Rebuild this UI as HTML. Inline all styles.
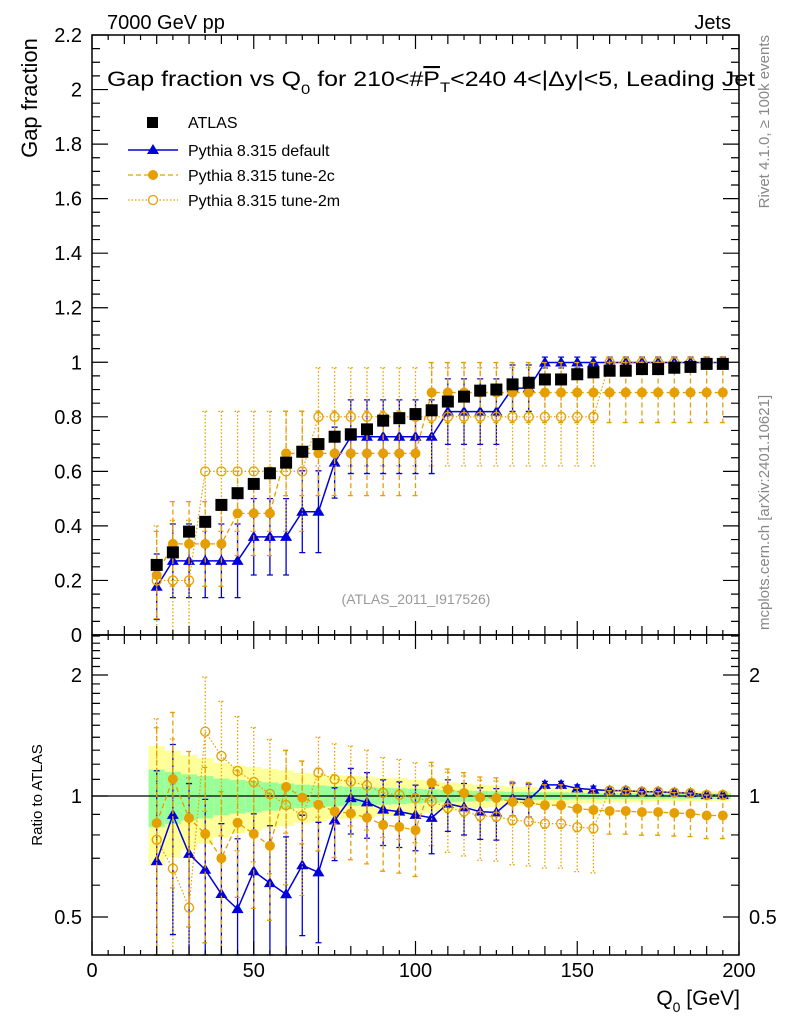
<!DOCTYPE html>
<html><head><meta charset="utf-8"><style>
html,body{margin:0;padding:0;background:#fff;}
svg{display:block;font-family:"Liberation Sans",sans-serif;}
</style></head><body>
<svg id="chart" width="786" height="1024" viewBox="0 0 786 1024" xmlns="http://www.w3.org/2000/svg">
<g id="bands"></g><g id="marks"></g><g id="axes"></g>
<text x="107" y="29" font-size="20">7000 GeV pp</text>
<text x="731" y="29" font-size="20" text-anchor="end">Jets</text>
<text x="107" y="86" font-size="21" textLength="648" lengthAdjust="spacingAndGlyphs">Gap fraction vs Q<tspan dy="8" font-size="14">0</tspan><tspan dy="-8"> for 210&lt;#</tspan><tspan text-decoration="overline">P</tspan><tspan dy="6" font-size="14">T</tspan><tspan dy="-6">&lt;240  4&lt;|Δy|&lt;5, Leading Jet</tspan></text>
<text transform="translate(37,98) rotate(-90)" font-size="22" text-anchor="middle">Gap fraction</text>
<text transform="translate(42,795) rotate(-90)" font-size="15" text-anchor="middle">Ratio to ATLAS</text>
<text x="740" y="1005" font-size="21" text-anchor="end">Q<tspan dy="7" font-size="14">0</tspan><tspan dy="-7"> [GeV]</tspan></text>
<text transform="translate(769,35) rotate(-90)" font-size="15" fill="#888" text-anchor="end">Rivet 4.1.0, ≥ 100k events</text>
<text transform="translate(769,630) rotate(-90)" font-size="15" fill="#888">mcplots.cern.ch [arXiv:2401.10621]</text>
<text x="416" y="604" font-size="14" fill="#999" text-anchor="middle">(ATLAS_2011_I917526)</text>
<g>
<rect x="147" y="117" width="11" height="11" fill="#000"/>
<text x="188" y="128" font-size="16">ATLAS</text>
<line x1="128" y1="150" x2="178" y2="150" stroke="#0000dd" stroke-width="1.5"/>
<polygon points="153,144 159,154 147,154" fill="#0000dd"/>
<text x="188" y="156" font-size="16">Pythia 8.315 default</text>
<line x1="128" y1="175" x2="178" y2="175" stroke="#e69f00" stroke-width="1.3" stroke-dasharray="5,3"/>
<circle cx="153" cy="175" r="5" fill="#e69f00"/>
<text x="188" y="181" font-size="16">Pythia 8.315 tune-2c</text>
<line x1="128" y1="200" x2="178" y2="200" stroke="#e69f00" stroke-width="1.2" stroke-dasharray="1.5,2"/>
<circle cx="153" cy="200" r="4.5" fill="#fff" stroke="#e69f00" stroke-width="1.3"/>
<text x="188" y="206" font-size="16">Pythia 8.315 tune-2m</text>
</g>
</svg>
<script>
const xs = [20,25,30,35,40,45,50,55,60,65,70,75,80,85,90,95,100,105,110,115,120,125,130,135,140,145,150,155,160,165,170,175,180,185,190,195];
const atlas = [0.257,0.303,0.379,0.415,0.477,0.52,0.554,0.593,0.632,0.672,0.70,0.727,0.736,0.754,0.786,0.795,0.81,0.824,0.856,0.874,0.896,0.90,0.919,0.925,0.937,0.937,0.956,0.963,0.969,0.969,0.975,0.975,0.98,0.983,0.994,0.994];
const atlasTot = [0.085,0.09,0.1,0.1,0.1,0.1,0.1,0.1,0.1,0.095,0.095,0.09,0.09,0.09,0.085,0.085,0.08,0.075,0.07,0.065,0.06,0.055,0.05,0.05,0.045,0.045,0.04,0.04,0.035,0.035,0.035,0.03,0.03,0.03,0.03,0.03];
const atlasStat = [0.042,0.045,0.05,0.05,0.05,0.05,0.05,0.048,0.047,0.045,0.044,0.042,0.04,0.04,0.038,0.036,0.034,0.032,0.03,0.028,0.026,0.024,0.022,0.022,0.02,0.02,0.018,0.018,0.016,0.016,0.016,0.015,0.015,0.015,0.015,0.015];
const def = [0.177,0.272,0.272,0.272,0.272,0.272,0.36,0.36,0.36,0.452,0.452,0.632,0.727,0.727,0.727,0.727,0.727,0.727,0.819,0.819,0.819,0.819,0.905,0.905,0.999,0.999,0.999,0.999,0.999,0.999,0.999,0.999,0.999,0.999,0.999,0.999];
const defErr = [0.12,0.135,0.135,0.135,0.135,0.135,0.14,0.14,0.14,0.15,0.15,0.13,0.135,0.135,0.135,0.135,0.135,0.135,0.12,0.12,0.12,0.12,0.085,0.085,0.02,0.02,0.02,0.02,0.02,0.02,0.02,0.02,0.02,0.02,0.02,0.02];
const c2 = [0.22,0.334,0.334,0.334,0.334,0.446,0.446,0.446,0.666,0.666,0.666,0.666,0.666,0.666,0.666,0.666,0.666,0.889,0.889,0.889,0.889,0.889,0.889,0.889,0.889,0.889,0.889,0.889,0.889,0.889,0.889,0.889,0.889,0.889,0.889,0.889];
const c2Err = [0.16,0.155,0.155,0.155,0.155,0.155,0.155,0.155,0.155,0.155,0.155,0.155,0.155,0.155,0.155,0.155,0.155,0.11,0.11,0.11,0.11,0.11,0.11,0.11,0.11,0.11,0.11,0.11,0.11,0.11,0.11,0.11,0.11,0.11,0.11,0.11];
const m2 = [0.2,0.2,0.2,0.6,0.6,0.6,0.6,0.6,0.6,0.6,0.8,0.8,0.8,0.8,0.8,0.8,0.8,0.8,0.8,0.8,0.8,0.8,0.8,0.8,0.8,0.8,0.8,0.8,1.0,1.0,1.0,1.0,1.0,1.0,1.0,1.0];
const m2Err = [0.2,0.22,0.22,0.22,0.22,0.22,0.22,0.22,0.22,0.22,0.18,0.18,0.18,0.18,0.18,0.18,0.18,0.18,0.18,0.18,0.18,0.18,0.18,0.18,0.18,0.18,0.18,0.18,0.02,0.02,0.02,0.02,0.02,0.02,0.02,0.02];
const xTicks = [0,50,100,150,200];
const yTicks = [0,0.2,0.4,0.6,0.8,1,1.2,1.4,1.6,1.8,2,2.2];
const rTicks = [0.5,1,2];

const L=92,R=739,T=35,MB=635,RB=955;
const sx=v=>L+(v/200)*(R-L);
const sy=v=>MB-v/2.2*(MB-T);
const sr=v=>796-Math.log2(v)*121;
const clampM=y=>Math.max(T,Math.min(MB,y));
const clampR=y=>Math.max(MB,Math.min(RB,y));
const NS='http://www.w3.org/2000/svg';
function mk(parent,tag,attrs){const e=document.createElementNS(NS,tag);for(const k in attrs)e.setAttribute(k,attrs[k]);document.getElementById(parent).appendChild(e);return e;}

xs.forEach((x,i)=>{
  const x0=sx(x-2.5),x1=sx(x+2.5);
  const up=sr(1+atlasTot[i]/atlas[i]),dn=sr(Math.max(0.01,1-atlasTot[i]/atlas[i]));
  let e=mk('bands','rect',{x:x0,y:clampR(up),width:x1-x0,height:clampR(dn)-clampR(up),fill:'#ffff99'});
  
  
  const up2=sr(1+atlasStat[i]/atlas[i]),dn2=sr(1-atlasStat[i]/atlas[i]);
  e=mk('bands','rect',{x:x0,y:up2,width:x1-x0,height:dn2-up2,fill:'#99ff99'});
  
  
});
let rl=mk('bands','line',{x1:L,x2:R,y1:sr(1),y2:sr(1),stroke:'#000','stroke-width':1.2});



const series=[
 {v:def,e:defErr,col:'#0000dd',dash:'',w:1.5,m:'tri',name:'default'},
 {v:c2,e:c2Err,col:'#e69f00',dash:'5,3',w:1.3,m:'dot',name:'tune-2c'},
 {v:m2,e:m2Err,col:'#e69f00',dash:'1.5,2',w:1.2,m:'ring',name:'tune-2m'}
];
function marker(m,cx,cy,col,name){
  let e;
  if(m==='tri') e=mk('marks','polygon',{points:`${cx},${cy-6} ${cx+6},${cy+4} ${cx-6},${cy+4}`,fill:col});
  else if(m==='dot') e=mk('marks','circle',{cx:cx,cy:cy,r:5,fill:col});
  else e=mk('marks','circle',{cx:cx,cy:cy,r:4.5,fill:'none',stroke:col,'stroke-width':1.3});
  
  
}
series.forEach(s=>{
  let pts=xs.map((x,i)=>sx(x)+','+sy(s.v[i])).join(' ');
  let pl=mk('marks','polyline',{points:pts,fill:'none',stroke:s.col,'stroke-width':s.w,'stroke-dasharray':s.dash});
  
  
  let rpts=xs.map((x,i)=>sx(x)+','+clampR(sr(s.v[i]/atlas[i]))).join(' ');
  let rp=mk('marks','polyline',{points:rpts,fill:'none',stroke:s.col,'stroke-width':s.w,'stroke-dasharray':s.dash});
  
  
  xs.forEach((x,i)=>{
    const cx=sx(x);
    const y1=clampM(sy(s.v[i]+s.e[i])),y2=clampM(sy(s.v[i]-s.e[i]));
    let eb=mk('marks','path',{d:`M${cx},${y1}V${y2}M${cx-3},${y1}H${cx+3}M${cx-3},${y2}H${cx+3}`,stroke:s.col,'stroke-width':1.3,'stroke-dasharray':s.dash,fill:'none'});
    
    
    marker(s.m,cx,sy(s.v[i]),s.col,s.name+'-point');
    const r=s.v[i]/atlas[i];
    const r1=clampR(sr((s.v[i]+s.e[i])/atlas[i]));
    const lo=(s.v[i]-s.e[i])/atlas[i];
    const r2=lo>0?clampR(sr(lo)):RB;
    let rb=mk('marks','path',{d:`M${cx},${r1}V${r2}M${cx-3},${r1}H${cx+3}M${cx-3},${r2}H${cx+3}`,stroke:s.col,'stroke-width':1.3,'stroke-dasharray':s.dash,fill:'none'});
    
    
    const ry=sr(r); if(ry>MB&&ry<RB) marker(s.m,cx,ry,s.col,s.name+'-ratio-point');
  });
});
xs.forEach((x,i)=>{
  const cx=sx(x),cy=sy(atlas[i]);
  let eb=mk('marks','line',{x1:cx,x2:cx,y1:sy(atlas[i]+atlasStat[i]*0.4),y2:sy(atlas[i]-atlasStat[i]*0.4),stroke:'#000','stroke-width':1.2});
  
  
  let p=mk('marks','rect',{x:cx-6,y:cy-6,width:12,height:12,fill:'#000'});
  
  
});

[[T,MB],[MB,RB]].forEach(([a,b],k)=>{
  let f=mk('axes','rect',{x:L,y:a,width:R-L,height:b-a,fill:'none',stroke:'#000','stroke-width':1.5});
  
  
});
let d='';
for(let v=0;v<=200;v+=5){const x=sx(v);const len=v%50===0?14:(v%10===0?9:5);
  d+=`M${x},${MB}v${-len}M${x},${T}v${len}M${x},${RB}v${-len}M${x},${MB}v${len}`;}
for(let k=0;k<=44;k++){const v=k*0.05;const y=sy(v);const len=k%4===0?16:8;d+=`M${L},${y}h${len}M${R},${y}h${-len}`;}
for(let v=0.4;v<=2.55;v+=0.1){const y=sr(v);if(y<MB||y>RB)continue;const maj=Math.abs(v-0.5)<1e-6||Math.abs(v-1)<1e-6||Math.abs(v-2)<1e-6;const len=maj?16:8;d+=`M${L},${y}h${len}M${R},${y}h${-len}`;}
let tk=mk('axes','path',{d:d,stroke:'#000','stroke-width':1.2,fill:'none'});


xTicks.forEach(v=>{let t=mk('axes','text',{x:sx(v),y:977,'font-size':20,'text-anchor':'middle'});t.textContent=v;
  
  });
yTicks.forEach(v=>{let t=mk('axes','text',{x:82,y:sy(v)+7,'font-size':20,'text-anchor':'end'});t.textContent=v===0?'0':String(+v.toFixed(1));
  
  });
rTicks.forEach(v=>{[[82,'end'],[749,'start']].forEach(([x,a])=>{let t=mk('axes','text',{x:x,y:sr(v)+7,'font-size':20,'text-anchor':a});t.textContent=v;
  
  });});
</script>
</body></html>
